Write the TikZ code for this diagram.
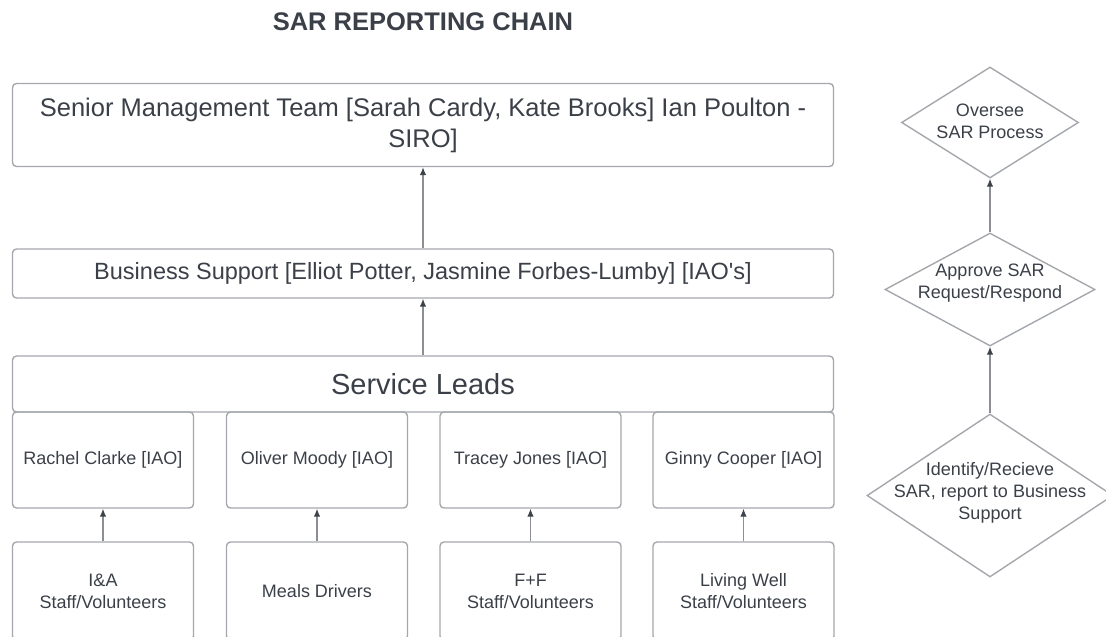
\documentclass[tikz,border=0pt]{standalone}
\usepackage{fontspec}
\setmainfont{Liberation Sans}
\usetikzlibrary{shapes.geometric,arrows.meta}
\definecolor{txtgray}{HTML}{3B4048}
\definecolor{linegray}{HTML}{A4A7AC}
\definecolor{tipgray}{HTML}{3E434B}
\tikzset{
  box/.style={draw=linegray, line width=1.4pt, rounded corners=4pt, text=txtgray, align=center, inner sep=0pt},
  flowdia/.style={draw=linegray, line width=1.4pt, diamond, inner sep=0pt},
  lbl/.style={text=txtgray, align=center, font=\fontsize{18}{22}\selectfont},
  up/.style={draw=linegray!85!black, line width=1.1pt, -{Latex[length=8pt,width=6.5pt,color=tipgray]}},
}
\begin{document}
\begin{tikzpicture}[x=1pt,y=-1pt]
  \useasboundingbox (0,0) rectangle (1106,637);
  \clip (0,0) rectangle (1106,637);
  \node[text=txtgray, font=\bfseries\fontsize{25.5}{30}\selectfont] (title) at (423,22) {SAR REPORTING CHAIN};
  \node[box, minimum width=821pt, minimum height=83pt, font=\fontsize{25.5}{31}\selectfont] (smt) at (423,125)
       {Senior Management Team [Sarah Cardy, Kate Brooks] Ian Poulton -\\SIRO]};
  \node[box, minimum width=821pt, minimum height=49pt, font=\fontsize{23.5}{28}\selectfont] (bs) at (423,273.5)
       {Business Support [Elliot Potter, Jasmine Forbes-Lumby] [IAO\textquotesingle s]};
  \node[box, minimum width=821pt, minimum height=56pt, font=\fontsize{29}{34}\selectfont] (sl) at (423,384) {Service Leads};
  % responsables sous Service Leads
  \node[box, lbl, minimum width=181pt, minimum height=96pt] (rachel) at (103,460) {Rachel Clarke [IAO]};
  \node[box, lbl, minimum width=181pt, minimum height=96pt] (oliver) at (317,460) {Oliver Moody [IAO]};
  \node[box, lbl, minimum width=181pt, minimum height=96pt] (tracey) at (530.5,460) {Tracey Jones [IAO]};
  \node[box, lbl, minimum width=181pt, minimum height=96pt] (ginny) at (743.5,460) {Ginny Cooper [IAO]};
  \node[box, lbl, minimum width=181pt, minimum height=98pt] (ia) at (103,591) {I\&A\\Staff/Volunteers};
  \node[box, lbl, minimum width=181pt, minimum height=98pt] (meals) at (317,591) {Meals Drivers};
  \node[box, lbl, minimum width=181pt, minimum height=98pt] (ff) at (530.5,591) {F+F\\Staff/Volunteers};
  \node[box, lbl, minimum width=181pt, minimum height=98pt] (living) at (743.5,591) {Living Well\\Staff/Volunteers};
  \draw[up] (bs) -- (smt);
  \draw[up] (sl) -- (bs);
  \draw[up] (ia) -- (rachel);
  \draw[up] (meals) -- (oliver);
  \draw[up] (ff) -- (tracey);
  \draw[up] (living) -- (ginny);
  % colonne des processus
  \node[flowdia, minimum width=177pt, minimum height=111pt] (oversee) at (990,122.5) {};
  \node[lbl] at ([yshift=1pt]oversee) {Oversee\\SAR Process};
  \node[flowdia, minimum width=210pt, minimum height=113pt] (approve) at (990,289.5) {};
  \node[lbl] at ([yshift=6pt]approve) {Approve SAR\\Request/Respond};
  \node[flowdia, minimum width=246pt, minimum height=163pt] (identify) at (990,495.5) {};
  \node[lbl] at ([yshift=2.5pt]identify) {Identify/Recieve\\SAR, report to Business\\Support};
  \draw[up] (approve) -- (oversee);
  \draw[up] (identify) -- (approve);
\end{tikzpicture}
\end{document}
